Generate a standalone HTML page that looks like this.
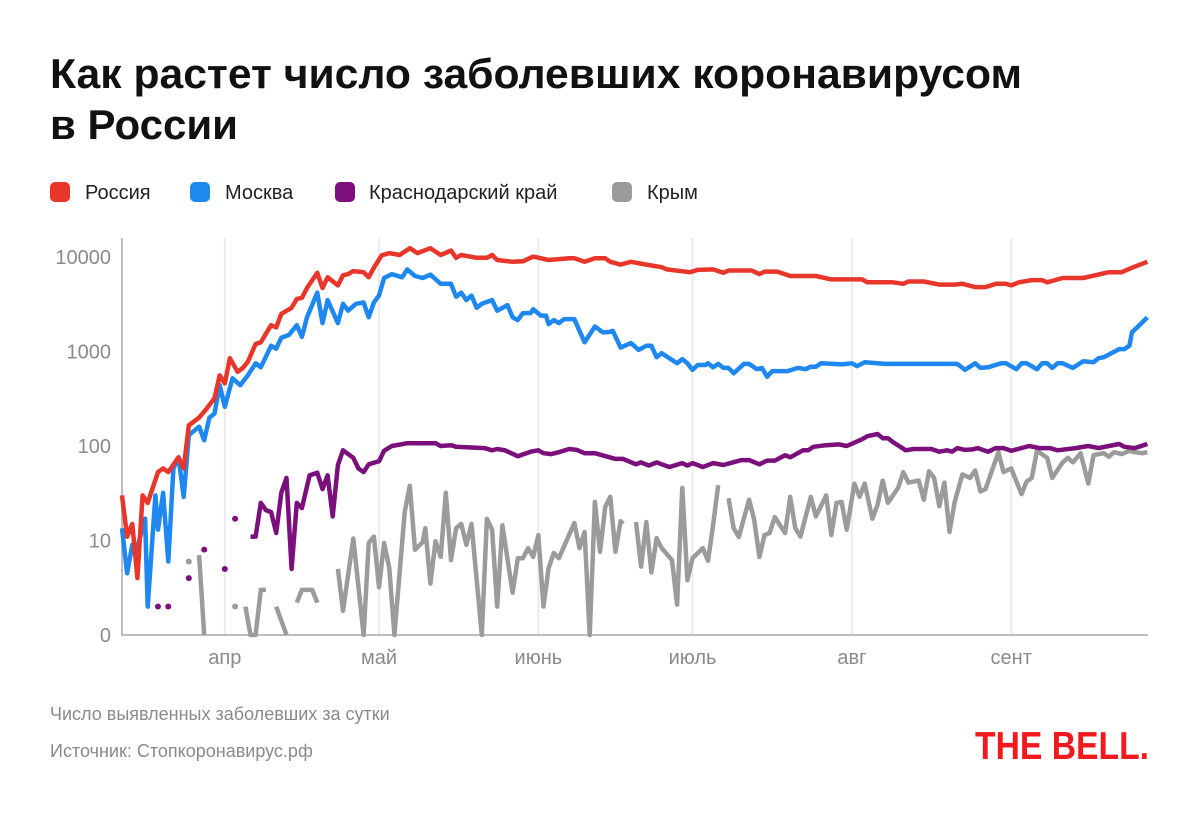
<!DOCTYPE html>
<html><head><meta charset="utf-8">
<style>
html,body{margin:0;padding:0;background:#fff;}
svg{display:block;font-family:"Liberation Sans","DejaVu Sans",sans-serif;}
</style></head>
<body>
<svg id="chart" width="1200" height="817" viewBox="0 0 1200 817" xmlns="http://www.w3.org/2000/svg">
  <text x="50" y="88" font-size="42" font-weight="bold" fill="#111" textLength="972" lengthAdjust="spacingAndGlyphs">Как растет число заболевших коронавирусом</text>
  <text x="50" y="139" font-size="42" font-weight="bold" fill="#111" textLength="188" lengthAdjust="spacingAndGlyphs">в России</text>
  <g font-size="20" fill="#222">
    <g><rect x="50" y="182" width="20" height="20" rx="5" fill="#e8362a"/><text x="85" y="199">Россия</text></g>
    <g><rect x="190" y="182" width="20" height="20" rx="5" fill="#1e88f0"/><text x="225" y="199">Москва</text></g>
    <g><rect x="335" y="182" width="20" height="20" rx="5" fill="#7b0f7b"/><text x="369" y="199">Краснодарский край</text></g>
    <g><rect x="612" y="182" width="20" height="20" rx="5" fill="#9b9b9b"/><text x="647" y="199">Крым</text></g>
  </g>
  <g id="grid"></g>
  <g id="yaxis"></g>
  <g id="xaxis"></g>
  <g id="series"></g>
  <text x="50" y="720" font-size="18" fill="#8a8a8a">Число выявленных заболевших за сутки</text>
  <text x="50" y="757" font-size="18" fill="#8a8a8a">Источник: Стопкоронавирус.рф</text>
  <text x="975" y="759" font-size="39" font-weight="900" fill="#f2191e" textLength="174" lengthAdjust="spacingAndGlyphs">THE BELL.</text>
</svg>
<script>
// Days since 12 March
const yTickValues = [10000, 1000, 100, 10, 1];
const yTickLabels = ["10000", "1000", "100", "10", "0"];
const monthDays = [20, 50, 81, 111, 142, 173];
const monthLabels = ["апр", "май", "июнь", "июль", "авг", "сент"];

const russiaDays = [0,1,2,3,4,5,7,8,9,11,12,13,15,16.5,18,19,20,21,22.5,23.5,24.5,26,27,29,30,31,33,34,35,36,38,39,40,42,43,44,45,47,48,49,50.5,52,54,56,57.5,60,62,64,65,66,69,71,72,73,76,78,80,83,87,88,90,92,94,95,97,99,102,105,106,110.5,112,115,117,118,122.5,124,125,127.5,130,135,138,144,145,150,152,153,156,159,162,163.5,166,168,170,172,173,174.5,177,179,180,183,187,192,194.5,196.5,199.5];
const russiaVals = [30,11,15,4,30,25,53,58,53,76,58,165,200,250,320,560,460,850,610,670,780,1200,1250,1900,1800,2500,2900,3600,3700,4700,6800,4700,6100,5000,6400,6600,7100,6900,6100,7700,10400,11000,10500,12400,11000,12400,10500,11700,9800,10500,9800,9800,10500,9300,8900,9000,10100,9300,9700,9700,8900,9700,9700,8900,8300,8900,8300,7800,7400,6900,7300,7400,6800,7200,7200,6600,7000,7000,6300,6300,5800,5800,5400,5400,5200,5500,5500,5100,5100,5200,4800,4800,5200,5200,5000,5400,5700,5700,5400,6000,6000,6900,6900,7700,8900];

const moscowDays = [0,1,2,3,4.5,5,6.5,7,8,9,10,11,12,13,15,16,17,18,19,20,21.5,23,24.5,26,27,29,30,31,32.5,34,35,36,38,39,40,42,43,44,45.5,47,48,49,50,51,52.5,54.5,55.5,57,58.5,60,62,64,65,66,67,68,69,70,72,73,75,76,77,78,79.5,80,81.5,82.5,83,84,85,86,88,90,92,93.5,94.5,95.5,97,99,100.5,102,103,104,105,108,109,110,111,112,113.5,114,115,116,117,118,119,121,122,123.5,124.5,125.5,126.5,129.5,131.5,133,134,135,136,140,142,143,144.5,148.5,152,162.5,164,166,167,168.5,171,172,174,175,176,178,179,180,181,182,183,185,187,189,190,191,194,195,196,196.5,197.5,199.5];
const moscowVals = [13.5,4.5,9,8.5,17,2,30,13,32,6,58,76,29,130,160,115,200,220,440,260,520,440,560,750,680,1150,1070,1400,1500,1900,1430,2300,4200,2000,3500,2000,3200,2700,3200,3300,2300,3300,3900,6000,6600,6100,7400,6300,6000,6500,5200,5200,3800,4200,3500,3900,2900,3200,3500,2700,3100,2300,2150,2550,2550,2800,2400,2400,1950,2150,2000,2200,2200,1250,1840,1600,1600,1650,1100,1230,1040,1150,1150,870,960,750,830,750,640,720,720,750,680,740,670,670,590,740,740,650,670,540,620,620,670,650,690,690,750,730,750,700,770,740,740,740,640,750,670,680,750,750,650,750,750,650,750,750,670,750,750,670,790,770,850,870,1060,1060,1150,1600,1800,2300];

const krasDotDays = [7, 9, 13, 16, 20, 22];
const krasDotVals = [2, 2, 4, 8, 5, 17];
const krasDays = [25,26,27,28,29,30,31,32,33,34,35,36.5,38,39,40,41,42,43,45,46,47,48,50,51,52.5,55.5,61,62,64,65,70.5,72,73,74.5,77,79.5,81,82,83.5,85,87,88.5,90,92,96,97.5,100,101,102.5,104,105,106.5,109,110,111,113,115,117,120.5,122,124,125.5,127,129,130,132.5,133.5,134.5,137,139.5,141,144,145,147,148,149,150,152.5,154,157.5,159,160.5,161.5,162.5,164,165.5,166.5,168.5,170,171.5,173,176.5,178.5,180.5,182,185.5,188,190,192,194,195,197,199.5];
const krasVals = [11,11,25,21,20,12,32,46,5,25,22,49,52,35,49,18,63,90,75,58,53,64,69,89,100,107,107,100,102,98,95,90,93,90,78,87,90,84,82,86,93,91,84,84,73,73,64,67,62,67,64,60,66,62,66,60,66,63,71,71,64,70,70,80,76,90,90,98,102,104,100,118,127,134,121,121,110,90,93,93,87,90,87,95,91,92,95,87,95,95,89,100,95,95,90,95,100,95,100,105,98,95,105];

const crimeaDotDays = [13, 22];
const crimeaDotVals = [6, 2];
const crimeaDays = [15,16,null,24,25,26,27,28,null,30,32,null,34,35,37,38,null,42,43,45,47,48,49,50,51,52,53,55,56,57,58.5,59,60,61,62,63,64,65,66,67,68,70,71,72,73,74,76,77,78,79,80,81,82,83,84,85,88,89,90,91,92,93,94,95,96,97,97.5,null,100,101,102,103,104,105,107,108,109,110,111,113,114,115,116,null,118,119,120,122,123,124,125,126,127,129,130,131,132,134,135,137,138,139,140,141,142.5,143.5,144.5,146,147,148,149,150,151,152,153,155,156,157,158,159,160,161,162,163.5,165,166,167,168,170.5,171.5,173,175,176,177,178,180,181,183,184,185,186.5,188,189,191,192,193,194.5,196,197,198.5,199.5];
const crimeaVals = [7,0,null,2,0,0,3,3,null,2,0,null,2.2,3,3,2.2,null,5,1.8,10.5,0,9.4,11,3.2,9.4,5.1,0,20,38,8,9.6,13.5,3.5,9.8,6.7,32,6.2,13.5,15,9,15,0,17,13,2,14.5,2.8,6.5,6.5,8.3,6.7,11.4,2,5.1,7.4,6.5,15.3,8.3,12.3,0,25.6,7.6,22.6,29,7.6,16,15,null,15.7,5.3,15.7,4.6,10.6,8.3,6.2,2.1,36,3.8,6.5,8.3,6.1,14.6,38.5,null,28,13.5,10.9,27,16.5,6.7,11.4,12,17.7,12,29,13.5,11,29,18,30,11.4,25,25.6,13,40,29,40,17,24,43,25,30,36,53,41,43,27,54,46,23,41,12.3,25.6,50,46,55,33,35,86,53,58,31,42,46,89,75,46,67,75,67,84,40,80,84,77,86,82,89,86,84,86];

const X0 = 122, PX_PER_DAY = 5.14, Y_BASE = 635, PX_PER_DECADE = 94.5;
function xScale(d) { return X0 + d * PX_PER_DAY; }
function yScale(v) { return Y_BASE - PX_PER_DECADE * Math.log10(Math.max(v, 1)); }

const NS = "http://www.w3.org/2000/svg";
function mk(tag, attrs, parent) {
  const el = document.createElementNS(NS, tag);
  for (const k in attrs) el.setAttribute(k, attrs[k]);
  parent.appendChild(el);
  return el;
}

const grid = document.getElementById("grid");
const xaxis = document.getElementById("xaxis");
monthDays.forEach((d, i) => {
  const x = xScale(d);
  const gl = mk("line", {x1: x, x2: x, y1: 238, y2: 635, stroke: "#ebebeb", "stroke-width": 2}, grid);
  
  
  const t = mk("text", {x: x, y: 664, "text-anchor": "middle", "font-size": 20, fill: "#8a8a8a"}, xaxis);
  t.textContent = monthLabels[i];
  
  
});

const yaxis = document.getElementById("yaxis");
yTickValues.forEach((v, i) => {
  const t = mk("text", {x: 111, y: yScale(v) + 7, "text-anchor": "end", "font-size": 20, fill: "#8a8a8a"}, yaxis);
  t.textContent = yTickLabels[i];
  
  
});
const yl = mk("line", {x1: 122, x2: 122, y1: 238, y2: 635, stroke: "#bdbdbd", "stroke-width": 2}, yaxis);


const xl = mk("line", {x1: 121, x2: 1148, y1: 635, y2: 635, stroke: "#bdbdbd", "stroke-width": 2}, xaxis);



const series = document.getElementById("series");
function drawLine(days, vals, color, name) {
  let d = "", pen = false;
  for (let i = 0; i < days.length; i++) {
    if (days[i] === null || vals[i] === null) { pen = false; continue; }
    d += (pen ? "L" : "M") + xScale(days[i]).toFixed(1) + "," + yScale(vals[i]).toFixed(1);
    pen = true;
  }
  const p = mk("path", {d: d, fill: "none", stroke: color, "stroke-width": 4.5, "stroke-linejoin": "round", "stroke-linecap": "butt"}, series);
  
  
}
function drawDots(days, vals, color, name) {
  days.forEach((d, i) => {
    const c = mk("circle", {cx: xScale(d), cy: yScale(vals[i]), r: 3, fill: color}, series);
    
    
  });
}
drawLine(crimeaDays, crimeaVals, "#9b9b9b", "crimea-line");
drawDots(crimeaDotDays, crimeaDotVals, "#9b9b9b", "crimea-point");
drawLine(krasDays, krasVals, "#7b0f7b", "krasnodar-line");
drawDots(krasDotDays, krasDotVals, "#7b0f7b", "krasnodar-point");
drawLine(moscowDays, moscowVals, "#1e88f0", "moscow-line");
drawLine(russiaDays, russiaVals, "#e8362a", "russia-line");
</script>
</body></html>
